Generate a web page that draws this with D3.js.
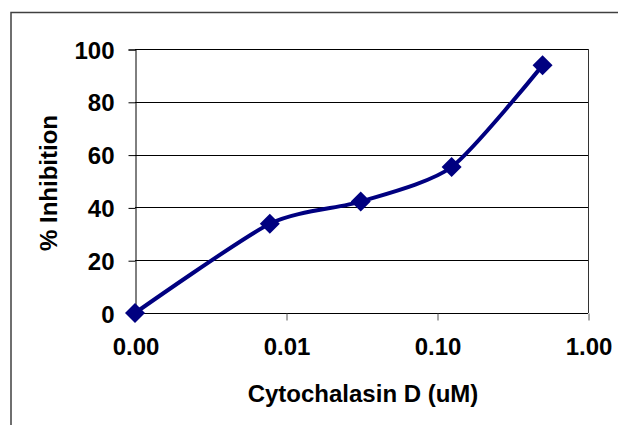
<!DOCTYPE html>
<html>
<head>
<meta charset="utf-8">
<script src="https://cdn.jsdelivr.net/npm/d3@7"></script>
<style>
  body { margin: 0; background: #fff; }
  text { font-family: "Liberation Sans", Arial, sans-serif; font-weight: bold; fill: #000; }
</style>
</head>
<body>
<svg id="chart" width="618" height="425"></svg>
<script>
// concentrations (uM), first point is the zero dose drawn at the axis start
const doses = [0.001, 0.0078125, 0.03125, 0.125, 0.5];
const inhibition = [0, 33.8, 42.2, 55.3, 93.8];
const xTicks = [0.001, 0.01, 0.1, 1];
const xTickLabels = ['0.00', '0.01', '0.10', '1.00'];
const yTicks = [0, 20, 40, 60, 80, 100];

const svg = d3.select('#chart');

// outer chart frame (runs past the right and bottom edges)
svg.append('rect')
  .attr('x', 11).attr('y', 12.5)
  .attr('width', 640).attr('height', 440)
  .attr('fill', 'none')
  .attr('stroke', '#404040')
  .attr('stroke-width', 1.5);

const x = d3.scaleLog().domain([0.001, 1]).range([135, 588]);
const y = d3.scaleLinear().domain([0, 100]).range([313, 49]);

// gridlines
svg.append('g')
  .selectAll('line')
  .data(yTicks)
  .enter()
  .append('line')
  .attr('x1', x(0.001)).attr('x2', x(1))
  .attr('y1', d => Math.round(y(d)) + 0.5)
  .attr('y2', d => Math.round(y(d)) + 0.5)
  .attr('stroke', '#000')
  .attr('stroke-width', 1);

// right border of the plot area
svg.append('line')
  .attr('x1', x(1) + 0.5).attr('x2', x(1) + 0.5)
  .attr('y1', y(100)).attr('y2', y(0))
  .attr('stroke', '#333');

// y axis
const yAxis = svg.append('g')
  .attr('transform', 'translate(' + (x(0.001) + 0.5) + ',0.5)')
  .call(d3.axisLeft(y).tickValues(yTicks).tickSize(7).tickPadding(14));
yAxis.select('.domain').attr('stroke', '#000');
yAxis.selectAll('text').style('font-size', '24px').attr('dy', '0.36em');

// x axis
const xAxis = svg.append('g')
  .attr('transform', 'translate(0.5,' + (y(0) + 0.5) + ')')
  .call(d3.axisBottom(x).tickValues(xTicks).tickSize(7).tickPadding(20)
    .tickFormat((d, i) => xTickLabels[i]));
xAxis.select('.domain').remove();
xAxis.selectAll('line').attr('stroke', '#555');
xAxis.selectAll('text').style('font-size', '24px').attr('dy', '0.62em');

// axis titles
svg.append('text')
  .attr('x', 363).attr('y', 402)
  .attr('text-anchor', 'middle')
  .style('font-size', '24px')
  .text('Cytochalasin D (uM)');

svg.append('text')
  .attr('transform', 'translate(57,183) rotate(-90)')
  .attr('text-anchor', 'middle')
  .style('font-size', '24px')
  .text('% Inhibition');

// data line
const pts = doses.map((d, i) => [d, inhibition[i]]);
const line = d3.line()
  .x(d => x(d[0]))
  .y(d => y(d[1]))
  .curve(d3.curveCardinal.tension(0.3));

svg.append('path')
  .datum(pts)
  .attr('d', line)
  .attr('fill', 'none')
  .attr('stroke', '#000080')
  .attr('stroke-width', 4);

// diamond markers
svg.append('g')
  .selectAll('path')
  .data(pts)
  .enter()
  .append('path')
  .attr('transform', d => 'translate(' + x(d[0]) + ',' + y(d[1]) + ')')
  .attr('d', 'M0,-10L10,0L0,10L-10,0Z')
  .attr('fill', '#000080');
</script>
</body>
</html>
